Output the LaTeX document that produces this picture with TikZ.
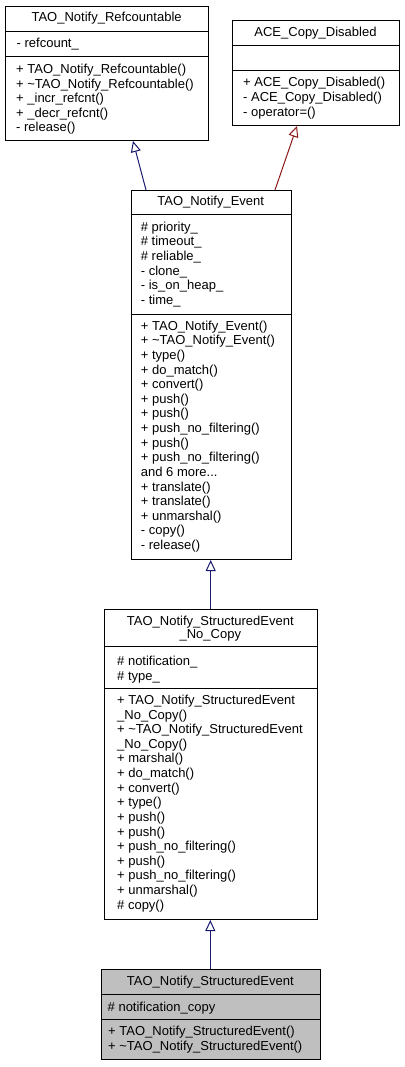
\documentclass[tikz,border=0pt]{standalone}
\usepackage{fontspec}
\setmainfont{Liberation Sans}
\usetikzlibrary{arrows.meta}
\definecolor{pubblue}{HTML}{191970}
\definecolor{privred}{HTML}{8B1A1A}
\definecolor{hlgray}{HTML}{BFBFBF}
\begin{document}
\begin{tikzpicture}[x=1pt,y=-1pt,
  umlbox/.style={draw=black, line width=1pt, inner sep=0, anchor=north west, fill=white},
  sepline/.style={draw=black, line width=1pt},
  txt/.style={anchor=base west, align=left, inner sep=0, font=\fontsize{13}{14.62}\selectfont},
  ttl/.style={anchor=base, align=center, inner sep=0, font=\fontsize{13}{14.62}\selectfont},
  pub/.style={draw=pubblue, line width=1pt, -{Triangle[open,length=11pt,width=10pt,fill=white]}},
  priv/.style={draw=privred, line width=1pt, -{Triangle[open,length=11pt,width=10pt,fill=white]}}]
\useasboundingbox (0,0) rectangle (404,1067);
% (multi-line nodes are placed at the baseline of their LAST line: first baseline + (n-1)*skip)

% TAO_Notify_Refcountable
\node[umlbox, minimum width=203pt, minimum height=134.5pt] (rc) at (5,6) {};
\draw[sepline] (5,31.5) -- (208,31.5);
\draw[sepline] (5,57) -- (208,57);
\node[ttl] (rct) at (106.6,22) {TAO\_Notify\_Refcountable};
\node[txt] (rca) at (16.5,47.5) {- refcount\_};
\node[txt] (rcm) at (16,{73.5+4*14.62}) {+ TAO\_Notify\_Refcountable()\\+ \textasciitilde TAO\_Notify\_Refcountable()\\+ \_incr\_refcnt()\\+ \_decr\_refcnt()\\- release()};

% ACE_Copy_Disabled
\node[umlbox, minimum width=167pt, minimum height=105pt] (ace) at (232,20.5) {};
\draw[sepline] (232,45.5) -- (399,45.5);
\draw[sepline] (232,71) -- (399,71);
\node[ttl] (acet) at (315.5,36.5) {ACE\_Copy\_Disabled};
\node[txt, font=\fontsize{13}{15.1}\selectfont] (acem) at (243,{86.8+2*15.1}) {+ ACE\_Copy\_Disabled()\\- ACE\_Copy\_Disabled()\\- operator=()};

% TAO_Notify_Event
\node[umlbox, minimum width=160pt, minimum height=369pt] (ev) at (130.7,190) {};
\draw[sepline] (130.7,214.7) -- (290.7,214.7);
\draw[sepline] (130.7,314) -- (290.7,314);
\node[ttl] (evt) at (210.7,205.5) {TAO\_Notify\_Event};
\node[txt] (eva) at (140.7,{231.2+5*14.62}) {\# priority\_\\\# timeout\_\\\# reliable\_\\- clone\_\\- is\_on\_heap\_\\- time\_};
\node[txt] (evm) at (140.7,{330.2+15*14.62}) {+ TAO\_Notify\_Event()\\+ \textasciitilde TAO\_Notify\_Event()\\+ type()\\+ do\_match()\\+ convert()\\+ push()\\+ push()\\+ push\_no\_filtering()\\+ push()\\+ push\_no\_filtering()\\and 6 more...\\+ translate()\\+ translate()\\+ unmarshal()\\- copy()\\- release()};

% TAO_Notify_StructuredEvent_No_Copy
\node[umlbox, minimum width=212.7pt, minimum height=310pt] (nc) at (104,609) {};
\draw[sepline] (104,646.7) -- (316.7,646.7);
\draw[sepline] (104,688.3) -- (316.7,688.3);
\node[ttl, font=\fontsize{13}{13.6}\selectfont] (nct) at (210.3,{625.2+13.6}) {TAO\_Notify\_StructuredEvent\\\_No\_Copy};
\node[txt] (nca) at (117,{665.5+14.62}) {\# notification\_\\\# type\_};
\node[txt] (ncm) at (117,{704.5+14*14.62}) {+ TAO\_Notify\_StructuredEvent\\\_No\_Copy()\\+ \textasciitilde TAO\_Notify\_StructuredEvent\\\_No\_Copy()\\+ marshal()\\+ do\_match()\\+ convert()\\+ type()\\+ push()\\+ push()\\+ push\_no\_filtering()\\+ push()\\+ push\_no\_filtering()\\+ unmarshal()\\\# copy()};

% TAO_Notify_StructuredEvent
\node[umlbox, fill=hlgray, minimum width=219.3pt, minimum height=90pt] (se) at (100.7,969) {};
\draw[sepline] (100.7,994) -- (320,994);
\draw[sepline] (100.7,1019.5) -- (320,1019.5);
\node[ttl] (set) at (210.3,985.2) {TAO\_Notify\_StructuredEvent};
\node[txt] (sea) at (107.5,1011.2) {\# notification\_copy};
\node[txt] (sem) at (108,{1035.5+14.62}) {+ TAO\_Notify\_StructuredEvent()\\+ \textasciitilde TAO\_Notify\_StructuredEvent()};

% inheritance connectors
\coordinate (evA) at (146,190);
\coordinate (rcA) at (133,141);
\coordinate (evB) at (275,190);
\coordinate (aceB) at (297,126);
\draw[pub] (evA) -- (rcA);
\draw[priv] (evB) -- (aceB);
\draw[pub] (nc.north -| 210.7,0) -- (ev.south -| 210.7,0);
\draw[pub] (se.north -| 210.3,0) -- (nc.south -| 210.3,0);
\end{tikzpicture}
\end{document}
